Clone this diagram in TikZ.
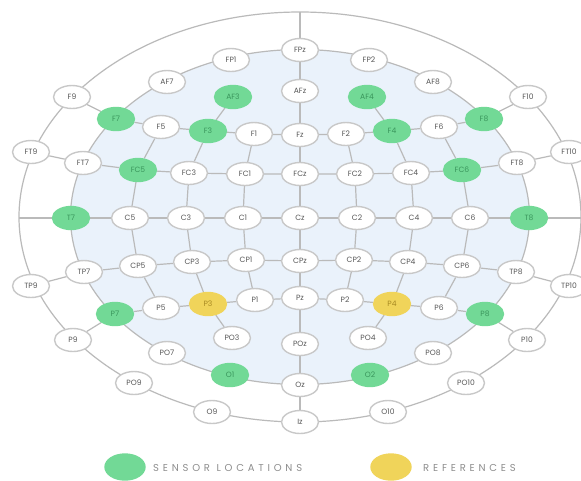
\documentclass[tikz,border=0pt]{standalone}
\usepackage{fontspec}
\setmainfont{Poppins}
\newfontfamily\legendfont[LetterSpace=38]{Poppins}
\usetikzlibrary{shapes.geometric,backgrounds}
\definecolor{edgegray}{HTML}{BABABA}
\definecolor{nodegray}{HTML}{C8C8C8}
\definecolor{labelgray}{HTML}{585858}
\definecolor{bluefill}{HTML}{EAF2FB}
\definecolor{sensgreen}{HTML}{72D996}
\definecolor{sensdark}{HTML}{3A965C}
\definecolor{refyellow}{HTML}{F0D45A}
\definecolor{refdark}{HTML}{A88A22}
\definecolor{legendgray}{HTML}{8E8E8E}
\begin{document}
\begin{tikzpicture}[x=1pt,y=-1pt,
  el/.style={ellipse, draw=nodegray, line width=1.4pt, fill=white,
    minimum width=37pt, minimum height=23pt, inner sep=0pt,
    font=\fontsize{7.6}{7.6}\selectfont, text=labelgray},
  sens/.style={el, fill=sensgreen, draw=sensgreen, text=sensdark},
  refn/.style={el, fill=refyellow, draw=refyellow, text=refdark},
  ln/.style={draw=edgegray, line width=1.2pt},
  lgtext/.style={anchor=west, inner sep=0pt, text=legendgray,
    font=\legendfont\fontsize{10}{10}\selectfont}]
\useasboundingbox (0,0) rectangle (581,480);
\begin{scope}[on background layer]
  \fill[white] (0,0) rectangle (581,480);
  \fill[bluefill] (300,217) ellipse [x radius=229.5, y radius=167.5];
  \draw[ln] (300,217) ellipse [x radius=281, y radius=205];
  \draw[ln] (300,217) ellipse [x radius=229.5, y radius=167.5];
\end{scope}
\coordinate (top) at (300,12);
\coordinate (lft) at (19,218);
\coordinate (rgt) at (581,218);
% row FP / AF
\node[el] (FPz) at (300,50) {FPz};
\node[el] (FP1) at (231,60) {FP1};
\node[el] (FP2) at (369,60) {FP2};
\node[el] (AF7) at (167,82) {AF7};
\node[el] (AF8) at (433,82) {AF8};
\node[sens] (AF3) at (233,97) {AF3};
\node[sens] (AF4) at (367,97) {AF4};
\node[el] (AFz) at (300,91) {AFz};
% row F
\node[el] (F9) at (72,97) {F9};
\node[el] (F10) at (528,97) {F10};
\node[sens] (F7) at (116,119) {F7};
\node[sens] (F8) at (484,119) {F8};
\node[el] (F5) at (161,127) {F5};
\node[el] (F6) at (439,127) {F6};
\node[sens] (F3) at (208,131) {F3};
\node[sens] (F4) at (392,131) {F4};
\node[el] (F1) at (254,134) {F1};
\node[el] (F2) at (346,134) {F2};
\node[el] (Fz) at (300,135) {Fz};
% row FC
\node[el] (FT9) at (31,152) {FT9};
\node[el] (FT10) at (569,152) {FT10};
\node[el] (FT7) at (83,163) {FT7};
\node[el] (FT8) at (517,163) {FT8};
\node[sens] (FC5) at (138,170) {FC5};
\node[sens] (FC6) at (462,170) {FC6};
\node[el] (FC3) at (189,173) {FC3};
\node[el] (FC4) at (411,173) {FC4};
\node[el] (FC1) at (245,174) {FC1};
\node[el] (FC2) at (355,174) {FC2};
\node[el] (FCz) at (300,174) {FCz};
% row C
\node[sens] (T7) at (71,218) {T7};
\node[sens] (T8) at (529,218) {T8};
\node[el] (C5) at (130,218) {C5};
\node[el] (C6) at (470,218) {C6};
\node[el] (C3) at (186,218) {C3};
\node[el] (C4) at (414,218) {C4};
\node[el] (C1) at (243,218) {C1};
\node[el] (C2) at (357,218) {C2};
\node[el] (Cz) at (300,218) {Cz};
% row CP
\node[el] (TP9) at (31,286) {TP9};
\node[el] (TP10) at (569,286) {TP10};
\node[el] (TP7) at (84,272) {TP7};
\node[el] (TP8) at (516,272) {TP8};
\node[el] (CP5) at (138,266) {CP5};
\node[el] (CP6) at (462,266) {CP6};
\node[el] (CP3) at (192,262) {CP3};
\node[el] (CP4) at (408,262) {CP4};
\node[el] (CP1) at (246,260) {CP1};
\node[el] (CP2) at (354,260) {CP2};
\node[el] (CPz) at (300,261) {CPz};
% row P
\node[el] (P9) at (73,340) {P9};
\node[el] (P10) at (527,340) {P10};
\node[sens] (P7) at (115,314) {P7};
\node[sens] (P8) at (485,314) {P8};
\node[el] (P5) at (161,308) {P5};
\node[el] (P6) at (439,308) {P6};
\node[refn] (P3) at (208,304) {P3};
\node[refn] (P4) at (392,304) {P4};
\node[el] (P1) at (255,300) {P1};
\node[el] (P2) at (345,300) {P2};
\node[el] (Pz) at (300,298) {Pz};
% row PO / O
\node[el] (PO9) at (134,383) {PO9};
\node[el] (PO10) at (466,383) {PO10};
\node[el] (PO7) at (167,353) {PO7};
\node[el] (PO8) at (433,353) {PO8};
\node[el] (PO3) at (232,338) {PO3};
\node[el] (PO4) at (368,338) {PO4};
\node[el] (POz) at (300,344) {POz};
\node[el] (O9) at (212,412) {O9};
\node[el] (O10) at (388,412) {O10};
\node[sens] (O1) at (230,375) {O1};
\node[sens] (O2) at (370,375) {O2};
\node[el] (Oz) at (300,385) {Oz};
\node[el] (Iz) at (300,422) {Iz};
% legend
\node[sens, minimum width=40pt, minimum height=26pt] (lgS) at (125,467) {};
\node[lgtext] (lgSt) at (153,468) {SENSOR LOCATIONS};
\node[refn, minimum width=40pt, minimum height=26pt] (lgR) at (391,467) {};
\node[lgtext] (lgRt) at (423,468) {REFERENCES};
% connectors
\begin{scope}[on background layer]
  \draw[ln] (top) -- (FPz) -- (AFz) -- (Fz) -- (FCz) -- (Cz) -- (CPz) -- (Pz) -- (POz) -- (Oz) -- (Iz);
  \draw[ln] (lft) -- (T7) -- (C5) -- (C3) -- (C1) -- (Cz) -- (C2) -- (C4) -- (C6) -- (T8) -- (rgt);
  \draw[ln] (F7) -- (F5) -- (F3) -- (F1) -- (Fz) -- (F2) -- (F4) -- (F6) -- (F8);
  \draw[ln] (FT9) -- (FT7) -- (FC5) -- (FC3) -- (FC1) -- (FCz) -- (FC2) -- (FC4) -- (FC6) -- (FT8) -- (FT10);
  \draw[ln] (TP9) -- (TP7) -- (CP5) -- (CP3) -- (CP1) -- (CPz) -- (CP2) -- (CP4) -- (CP6) -- (TP8) -- (TP10);
  \draw[ln] (P9) -- (P7) -- (P5) -- (P3) -- (P1) -- (Pz) -- (P2) -- (P4) -- (P6) -- (P8) -- (P10);
  \draw[ln] (F9) -- (F7);
  \draw[ln] (F10) -- (F8);
  \draw[ln] (AF3) -- (F3) -- (FC3) -- (C3) -- (CP3) -- (P3) -- (PO3);
  \draw[ln] (AF4) -- (F4) -- (FC4) -- (C4) -- (CP4) -- (P4) -- (PO4);
  \draw[ln] (F5) -- (FC5) -- (C5) -- (CP5) -- (P5);
  \draw[ln] (F6) -- (FC6) -- (C6) -- (CP6) -- (P6);
  \draw[ln] (F1) -- (FC1) -- (C1) -- (CP1) -- (P1);
  \draw[ln] (F2) -- (FC2) -- (C2) -- (CP2) -- (P2);
\end{scope}
\end{tikzpicture}
\end{document}
